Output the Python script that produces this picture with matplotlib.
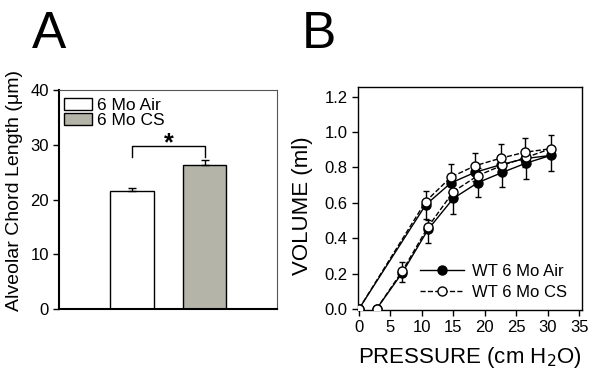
import matplotlib
matplotlib.use("Agg")
import matplotlib.pyplot as plt
import numpy as np

plt.rcParams['font.family'] = ['Liberation Sans', 'DejaVu Sans']

# --- panel A: chord length bars ---
groups = ['6 Mo Air', '6 Mo CS']
chord_mean = [21.6, 26.3]
chord_sem = [0.45, 0.85]
bar_colors = ['white', '#b4b4a8']

# --- panel B: P-V loop (inflation then deflation) ---
pressure_air = [2.8, 6.9, 11.0, 15.0, 18.9, 22.8, 26.6, 30.5, 26.4, 22.5, 18.5, 14.6, 10.6, 0.0]
volume_air = [0.0, 0.205, 0.45, 0.625, 0.714, 0.772, 0.825, 0.868, 0.85, 0.815, 0.773, 0.712, 0.588, 0.0]
err_air = [0.0, 0.05, 0.08, 0.09, 0.08, 0.085, 0.09, 0.088, 0.05, 0.05, 0.05, 0.05, 0.08, 0.0]

pressure_cs = [2.8, 6.9, 11.0, 15.0, 18.9, 22.8, 26.6, 30.5, 26.4, 22.5, 18.5, 14.6, 10.6, 0.0]
volume_cs = [0.0, 0.215, 0.465, 0.663, 0.754, 0.812, 0.857, 0.906, 0.886, 0.852, 0.81, 0.745, 0.607, 0.0]
err_cs = [0.0, 0.05, 0.04, 0.04, 0.04, 0.04, 0.04, 0.076, 0.079, 0.079, 0.074, 0.073, 0.06, 0.0]

fig = plt.figure(figsize=(6, 3.88), dpi=100)

# panel A
axA = fig.add_axes([59.3 / 600, 79 / 388, 218 / 600, 219 / 388])
xpos = np.arange(1, len(groups) + 1)
for i in range(len(groups)):
    axA.bar(xpos[i], chord_mean[i], width=0.6, color=bar_colors[i], edgecolor='black',
            linewidth=1, label=groups[i], zorder=2)
    axA.errorbar(xpos[i], chord_mean[i], yerr=[[0], [chord_sem[i]]], fmt='none',
                 ecolor='black', elinewidth=1, capsize=3, zorder=3)
axA.set_xlim(0, 3)
axA.set_ylim(0, 40)
axA.set_yticks([0, 10, 20, 30, 40])
axA.set_xticks([])
axA.tick_params(axis='y', direction='out', length=4, width=1, labelsize=12)
axA.set_ylabel('Alveolar Chord Length (\u03bcm)', fontsize=14)
axA.yaxis.set_label_coords(-0.168, 0.54)
for s in ['left', 'bottom']:
    axA.spines[s].set_linewidth(1.5)
for s in ['top', 'right']:
    axA.spines[s].set_linewidth(0.8)
    axA.spines[s].set_color('#555555')

# significance bracket
yb = max(m + e for m, e in zip(chord_mean, chord_sem)) + 0.6
axA.plot([xpos[0], xpos[0], xpos[1], xpos[1]], [yb, yb + 2, yb + 2, yb], color='black', lw=1)
axA.text(xpos.mean(), yb + 2.6, '*', ha='center', va='center', fontsize=18, fontweight='bold')

axA.legend(loc='upper left', bbox_to_anchor=(-0.015, 1.0), frameon=False, fontsize=12.5,
           handlelength=1.6, handleheight=0.65, handletextpad=0.3, labelspacing=0.0,
           borderaxespad=0.3, borderpad=0.15)

# panel B
axB = fig.add_axes([358 / 600, 78 / 388, 223.7 / 600, 222.7 / 388])
axB.errorbar(pressure_air, volume_air, yerr=[err_air, [0] * len(err_air)], fmt='none',
             ecolor='black', elinewidth=1, capsize=2.5, zorder=2)
axB.plot(pressure_air, volume_air, '-', color='black', lw=1, marker='o', markersize=6.5,
         markerfacecolor='black', markeredgecolor='black', label='WT 6 Mo Air', zorder=3)
axB.errorbar(pressure_cs, volume_cs, yerr=[[0] * len(err_cs), err_cs], fmt='none',
             ecolor='black', elinewidth=1, capsize=2.5, zorder=4)
axB.plot(pressure_cs, volume_cs, '--', color='black', lw=1, marker='o', markersize=6.5,
         markerfacecolor='white', markeredgecolor='black', label='WT 6 Mo CS', zorder=5)
axB.set_xlim(-0.15, 35.4)
axB.set_ylim(-0.006, 1.253)
axB.set_xticks(range(0, 36, 5))
axB.set_yticks(np.arange(0, 1.21, 0.2))
axB.set_yticklabels(['%.1f' % v for v in np.arange(0, 1.21, 0.2)])
axB.tick_params(direction='out', length=4, width=1, labelsize=12)
axB.set_xlabel('PRESSURE (cm H$_2$O)', fontsize=16, labelpad=7)
axB.set_ylabel('VOLUME (ml)', fontsize=16)
axB.yaxis.set_label_coords(-0.2, 0.47)
for s in axB.spines.values():
    s.set_linewidth(1)
axB.legend(loc='lower right', bbox_to_anchor=(0.964, 0.014), frameon=False, fontsize=12,
           handlelength=2.6, handletextpad=0.5, labelspacing=0.38, numpoints=1,
           borderaxespad=0)

fig.text(49 / 600, 1 - 47.5 / 388, 'A', fontsize=37, ha='center', va='baseline')
fig.text(319 / 600, 1 - 47.5 / 388, 'B', fontsize=37, ha='center', va='baseline')

fig.savefig('out.png', dpi=100)
